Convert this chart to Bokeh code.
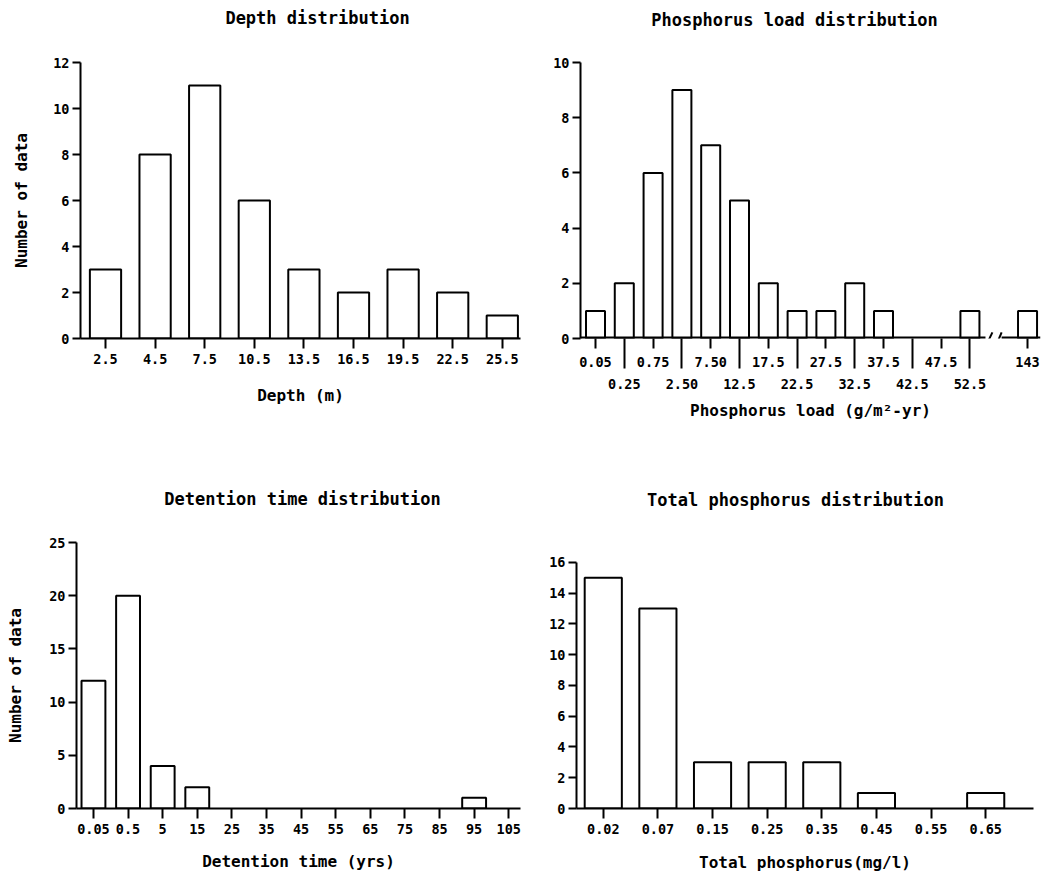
from bokeh.plotting import figure
from bokeh.models import FixedTicker, LinearAxis, Title
from bokeh.layouts import column, row
from bokeh.embed import file_html
from bokeh.resources import INLINE

# ---------------- data ----------------
depth_labels = ["2.5", "4.5", "7.5", "10.5", "13.5", "16.5", "19.5", "22.5", "25.5"]
depth_counts = [3, 8, 11, 6, 3, 2, 3, 2, 1]

pload_labels = ["0.05", "0.25", "0.75", "2.50", "7.50", "12.5", "17.5", "22.5",
                "27.5", "32.5", "37.5", "42.5", "47.5", "52.5", "143"]
pload_counts = [1, 2, 6, 9, 7, 5, 2, 1, 1, 2, 1, 0, 0, 1, 1]

det_labels = ["0.05", "0.5", "5", "15", "25", "35", "45", "55", "65", "75", "85", "95", "105"]
det_counts = [12, 20, 4, 2, 0, 0, 0, 0, 0, 0, 0, 1, 0]

tp_labels = ["0.02", "0.07", "0.15", "0.25", "0.35", "0.45", "0.55", "0.65"]
tp_counts = [15, 13, 3, 3, 3, 1, 0, 1]

FONT = "DejaVu Sans Mono"
TICK_FS = "13.5px"
LABEL_FS = "16px"
TITLE_FS = 17
WEIGHT = "bold"

TOP_H = 428
BOT_H = 874 - TOP_H


def style_axis(ax):
    ax.axis_line_width = 2
    ax.axis_line_color = "black"
    ax.major_tick_line_width = 2
    ax.major_tick_line_color = "black"
    ax.major_tick_in = 0
    ax.minor_tick_line_color = None
    ax.major_label_text_font = FONT
    ax.major_label_text_font_size = TICK_FS
    ax.major_label_text_font_style = WEIGHT
    ax.major_label_text_color = "black"
    ax.axis_label_text_font = FONT
    ax.axis_label_text_font_size = LABEL_FS
    ax.axis_label_text_font_style = WEIGHT
    ax.axis_label_text_color = "black"


def make_fig(w, h, fl, fr, ft, fb, xr, yr, yticks):
    p = figure(width=w, height=h, x_range=xr, y_range=yr,
               output_backend="svg", toolbar_location=None,
               min_border_left=fl, min_border_right=w - fr,
               min_border_top=ft, min_border_bottom=h - fb)
    p.grid.visible = False
    p.outline_line_color = None
    p.background_fill_color = "white"
    p.border_fill_color = "white"
    style_axis(p.xaxis[0])
    style_axis(p.yaxis[0])
    p.yaxis[0].ticker = FixedTicker(ticks=yticks)
    p.yaxis[0].bounds = (0, yticks[-1])
    p.yaxis[0].major_tick_out = 8
    p.yaxis[0].major_label_standoff = 3
    p.xaxis[0].major_tick_out = 10
    p.xaxis[0].major_label_standoff = 5
    return p


def add_title(p, text, center_px, frame_left, gap):
    width = len(text) * 0.602 * TITLE_FS
    # thin spacer panel between the frame and the title
    p.add_layout(Title(text=" ", text_font_size="1px", standoff=max(gap - 11.5, 0)), "above")
    p.add_layout(Title(text=text, align="left",
                       offset=center_px - frame_left - width / 2,
                       standoff=0, text_font=FONT,
                       text_font_size=f"{TITLE_FS}px", text_font_style=WEIGHT,
                       text_color="black"), "above")


def bars(p, xs, counts, width):
    xs2 = [x for x, c in zip(xs, counts) if c > 0]
    cs2 = [c for c in counts if c > 0]
    p.vbar(x=xs2, top=cs2, bottom=0, width=width, fill_color="white",
           line_color="black", line_width=2)


# ---------- Depth ----------
d_x = list(range(len(depth_labels)))
p1 = make_fig(523, TOP_H, 80, 520, 62, 338, (-0.504, 8.367), (0, 12), list(range(0, 13, 2)))
bars(p1, d_x, depth_counts, 0.63)
p1.xaxis[0].ticker = FixedTicker(ticks=d_x)
p1.xaxis[0].major_label_overrides = {i: t for i, t in zip(d_x, depth_labels)}
p1.xaxis[0].axis_label = "Depth (m)"
p1.xaxis[0].axis_label_standoff = 19
p1.yaxis[0].axis_label = "Number of data"
p1.yaxis[0].axis_label_standoff = 19
add_title(p1, "Depth distribution", 317, 80, 43)

# ---------- Phosphorus load ----------
pl_x = list(range(len(pload_labels) - 1)) + [len(pload_labels)]
xr2 = (-0.52, 15.45)
p2 = make_fig(523, TOP_H, 57, 517, 62, 338, xr2, (0, 10), list(range(0, 11, 2)))
bars(p2, pl_x, pload_counts, 0.66)
upper = [(x, t) for k, (x, t) in enumerate(zip(pl_x, pload_labels)) if k % 2 == 0]
lower = [(x, t) for k, (x, t) in enumerate(zip(pl_x, pload_labels)) if k % 2 == 1]
ax1 = p2.xaxis[0]
ax1.ticker = FixedTicker(ticks=[x for x, _ in upper], minor_ticks=[x for x, _ in lower])
ax1.major_label_overrides = {x: t for x, t in upper}
ax1.axis_line_color = None          # drawn below with a break
ax1.minor_tick_line_color = "black"
ax1.minor_tick_line_width = 2
ax1.minor_tick_in = 0
ax1.minor_tick_out = 30
ax1.major_label_standoff = -12
ax1.axis_label_standoff = 0
ax2 = LinearAxis(ticker=FixedTicker(ticks=[x for x, _ in lower]),
                 major_label_overrides={x: t for x, t in lower})
style_axis(ax2)
ax2.axis_line_color = None
ax2.major_tick_line_color = None
ax2.major_tick_out = 0
ax2.major_label_standoff = 9
ax2.axis_label = "Phosphorus load (g/m²-yr)"
ax2.axis_label_standoff = 9
p2.add_layout(ax2, "below")
# x axis line with a break before the last class
brk_l, brk_r = 13.54, 14.10
p2.segment(x0=[xr2[0], brk_r], y0=[0, 0], x1=[brk_l, xr2[1]], y1=[0, 0],
           line_color="black", line_width=4)
p2.segment(x0=[brk_l, brk_r - 0.21], y0=[-0.3, -0.3], x1=[brk_l + 0.24, brk_r], y1=[0.22, 0.22],
           line_color="black", line_width=2)
add_title(p2, "Phosphorus load distribution", 794 - 523, 57, 41)

# ---------- Detention time ----------
bt = 542 - TOP_H      # frame top inside bottom-row figures
bb = 808 - TOP_H      # frame bottom inside bottom-row figures
dt_x = list(range(len(det_labels)))
p3 = make_fig(523, BOT_H, 76, 520, bt, bb, (-0.49, 12.34), (0, 25), list(range(0, 26, 5)))
bars(p3, dt_x, det_counts, 0.69)
p3.xaxis[0].ticker = FixedTicker(ticks=dt_x)
p3.xaxis[0].major_label_overrides = {i: t for i, t in zip(dt_x, det_labels)}
p3.xaxis[0].axis_label = "Detention time (yrs)"
p3.xaxis[0].axis_label_standoff = 15
p3.yaxis[0].axis_label = "Number of data"
p3.yaxis[0].axis_label_standoff = 21
add_title(p3, "Detention time distribution", 302, 76, 42.5)

# ---------- Total phosphorus ----------
tp_x = list(range(len(tp_labels)))
# frame top shares the row with the detention panel; the axis itself stops at 16
p4 = make_fig(523, BOT_H, 53, 510, bt, bb, (-0.49, 7.875), (0, 17.30), list(range(0, 17, 2)))
bars(p4, tp_x, tp_counts, 0.68)
p4.xaxis[0].ticker = FixedTicker(ticks=tp_x)
p4.xaxis[0].major_label_overrides = {i: t for i, t in zip(tp_x, tp_labels)}
p4.xaxis[0].axis_label = "Total phosphorus(mg/l)"
p4.xaxis[0].axis_label_standoff = 16
add_title(p4, "Total phosphorus distribution", 795 - 523, 53, 41.5)

layout = column(row(p1, p2), row(p3, p4))
open("out.html", "w").write(file_html(layout, INLINE))
